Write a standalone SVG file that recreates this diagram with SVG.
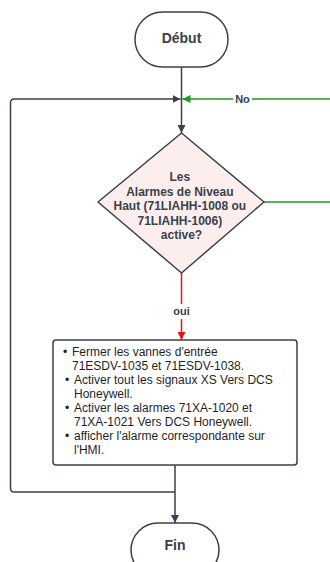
<svg xmlns="http://www.w3.org/2000/svg" width="330" height="562" viewBox="0 0 330 562">
  <defs>
    <style>
      .shape { fill: #ffffff; stroke: #3a414a; stroke-width: 1.5; }
      .decision { fill: #fdeeee; stroke: #3a414a; stroke-width: 1.5; }
      .title { font-family: "Liberation Sans", Arial, sans-serif; font-weight: bold; fill: #3a414a; text-anchor: middle; }
      .body { font-family: "Liberation Sans", Arial, sans-serif; font-size: 12px; fill: #1f1f1f; }
      .line { fill: none; stroke: #3a414a; stroke-width: 1.5; }
      .yes { fill: none; stroke: #e81313; stroke-width: 1.5; }
      .no { fill: none; stroke: #1e9a1e; stroke-width: 1.5; }
      .label { font-family: "Liberation Sans", Arial, sans-serif; font-weight: bold; font-size: 11px; fill: #3a414a; text-anchor: middle; }
    </style>
    <marker id="arrowDark" viewBox="0 0 10 10" refX="10" refY="5" markerWidth="8" markerHeight="8" markerUnits="userSpaceOnUse" orient="auto">
      <path d="M0,0 L10,5 L0,10 Z" fill="#3a414a"/>
    </marker>
    <marker id="arrowRed" viewBox="0 0 10 10" refX="10" refY="5" markerWidth="8" markerHeight="8" markerUnits="userSpaceOnUse" orient="auto">
      <path d="M0,0 L10,5 L0,10 Z" fill="#e81313"/>
    </marker>
    <marker id="arrowGreen" viewBox="0 0 10 10" refX="10" refY="5" markerWidth="9" markerHeight="8" markerUnits="userSpaceOnUse" orient="auto">
      <path d="M0,0 L10,5 L0,10 Z" fill="#1e9a1e"/>
    </marker>
  </defs>

  <rect width="330" height="562" fill="#ffffff"/>

  <g id="connectors">
    <!-- start to decision -->
    <path class="line" d="M181.5,66 V133" marker-end="url(#arrowDark)"/>
    <!-- loop back from the action block -->
    <path class="line" d="M175,492 H14 Q10.5,492 10.5,488 V103 Q10.5,99 14,99 H180.5" marker-end="url(#arrowDark)"/>
    <!-- "No" branch, routed past the right edge -->
    <path class="no" d="M264,202 H334 V99 H182.5" marker-end="url(#arrowGreen)"/>
    <rect x="233" y="92" width="19" height="13" fill="#ffffff"/>
    <text class="label" x="242.5" y="103">No</text>
    <!-- "oui" branch -->
    <path class="yes" d="M181.5,273 V340" marker-end="url(#arrowRed)"/>
    <rect x="169" y="304" width="25" height="15" fill="#ffffff"/>
    <text class="label" x="181.5" y="315">oui</text>
    <!-- action block to end -->
    <path class="line" d="M175,465 V523" marker-end="url(#arrowDark)"/>
  </g>

  <g id="start">
    <rect class="shape" x="135" y="12" width="93" height="55" rx="27.5" ry="27.5"/>
    <text class="title" x="181.5" y="43" font-size="14">Début</text>
  </g>

  <g id="decision">
    <polygon class="decision" points="181.5,133 264,202 181.5,273 98,202" stroke-linejoin="round"/>
    <text class="title" font-size="12">
      <tspan x="181.5" y="181">Les</tspan>
      <tspan x="181.5" y="195.5">Alarmes de Niveau</tspan>
      <tspan x="181.5" y="210">Haut (71LIAHH-1008 ou</tspan>
      <tspan x="181.5" y="224.5">71LIAHH-1006)</tspan>
      <tspan x="181.5" y="239">active?</tspan>
    </text>
  </g>

  <g id="actions">
    <rect class="shape" x="53" y="340" width="244" height="125" rx="3" ry="3"/>
    <text class="body">
      <tspan x="63" y="356">•</tspan><tspan x="72" y="356">Fermer les vannes d'entrée</tspan>
      <tspan x="72" y="370">71ESDV-1035 et 71ESDV-1038.</tspan>
      <tspan x="65" y="384">•</tspan><tspan x="74" y="384">Activer tout les signaux XS Vers DCS</tspan>
      <tspan x="74" y="398">Honeywell.</tspan>
      <tspan x="65" y="412">•</tspan><tspan x="74" y="412">Activer les alarmes 71XA-1020 et</tspan>
      <tspan x="74" y="426">71XA-1021 Vers DCS Honeywell.</tspan>
      <tspan x="65" y="440">•</tspan><tspan x="74" y="440">afficher l'alarme correspondante sur</tspan>
      <tspan x="74" y="454">l'HMI.</tspan>
    </text>
  </g>

  <g id="end">
    <rect class="shape" x="131" y="523" width="88" height="54" rx="27" ry="27"/>
    <text class="title" x="175" y="550" font-size="14">Fin</text>
  </g>
</svg>
